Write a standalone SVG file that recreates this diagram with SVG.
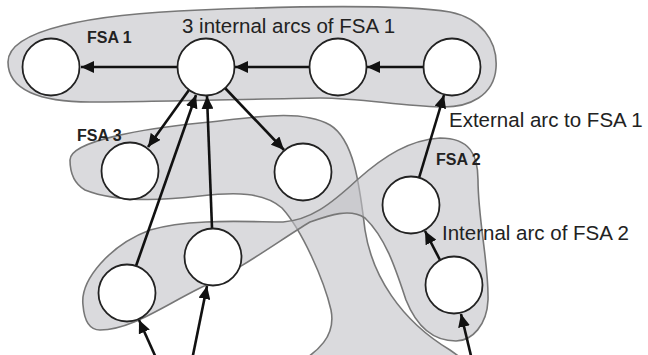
<svg xmlns="http://www.w3.org/2000/svg" width="648" height="355" viewBox="0 0 648 355">
<style>
.region{fill:#c2c2c7;fill-opacity:0.6;stroke:#777;stroke-width:1.6}
.node circle{fill:#fff;stroke:#222;stroke-width:1.8}
.arc{stroke:#111;stroke-width:2.6;fill:none;marker-end:url(#ah)}
.lbl{font-family:"Liberation Sans",Arial,sans-serif;font-size:20.5px;fill:#222}
.fsa{font-family:"Liberation Sans",Arial,sans-serif;font-size:16px;font-weight:bold;fill:#222}
</style>
<defs>
<marker id="ah" markerUnits="userSpaceOnUse" markerWidth="14" markerHeight="12" refX="13" refY="6" orient="auto">
<path d="M0,0 L13,6 L0,12 Z" fill="#111"/>
</marker>
</defs>
<rect width="648" height="355" fill="#fff"/>
<g id="regions">
<path id="fsa1-region" class="region" d="M8,62 C8,30 90,14 200,10 C300,6 400,4 450,12 C480,18 498,40 496,68 C494,95 470,108 440,107 C400,106 360,98 320,98 C250,99 150,102 90,102 C40,102 8,90 8,62 Z"/>
<path id="fsa3-region" class="region" d="M70,160 C70,140 150,128 200,123 C250,118 300,108 330,125 C355,140 360,190 365,230 C372,275 400,320 450,350 L475,368 L290,368 C320,352 336,335 331,310 C324,280 302,230 282,208 C264,192 235,192 200,196 C150,202 110,200 85,190 C73,183 70,172 70,160 Z"/>
<path id="fsa2-region" class="region" d="M83,305 C80,280 110,245 150,230 C190,218 250,222 283,222 C310,220 330,205 357,180 C385,155 410,140 440,138 C470,138 478,155 478,180 C478,220 489,265 488,300 C487,325 472,341 456,341 C432,341 416,325 406,300 C396,270 386,238 365,218 C350,208 330,215 310,222 C280,240 240,270 200,288 C160,308 130,330 100,330 C88,330 84,318 83,305 Z"/>
</g>
<text class="fsa" x="87" y="43">FSA 1</text>
<text class="fsa" x="77" y="141">FSA 3</text>
<text class="fsa" x="436" y="165">FSA 2</text>
<g id="connectors">
<line class="arc" x1="424" y1="67" x2="367" y2="67"/>
<line class="arc" x1="310" y1="67" x2="235" y2="67"/>
<line class="arc" x1="178" y1="67" x2="81" y2="67"/>
<line class="arc" x1="189" y1="90" x2="148" y2="147"/>
<line class="arc" x1="225" y1="88" x2="284" y2="150"/>
<line class="arc" x1="136" y1="266" x2="196" y2="95"/>
<line class="arc" x1="212" y1="228" x2="207" y2="96"/>
<line class="arc" x1="419" y1="178" x2="444" y2="95"/>
<line class="arc" x1="440" y1="260" x2="425" y2="231"/>
<line class="arc" x1="472" y1="360" x2="461" y2="314"/>
<line class="arc" x1="157" y1="360" x2="139" y2="320"/>
<line class="arc" x1="192" y1="360" x2="207" y2="286"/>
</g>
<g id="n1" class="node"><circle cx="51" cy="67" r="28.5"/></g>
<g id="n2" class="node"><circle cx="206" cy="67" r="28.5"/></g>
<g id="n3" class="node"><circle cx="338" cy="67" r="28.5"/></g>
<g id="n4" class="node"><circle cx="452" cy="67" r="28.5"/></g>
<g id="n5" class="node"><circle cx="130" cy="171" r="28.5"/></g>
<g id="n6" class="node"><circle cx="303" cy="172" r="28.5"/></g>
<g id="n7" class="node"><circle cx="411" cy="205" r="28.5"/></g>
<g id="n8" class="node"><circle cx="454" cy="285" r="28.5"/></g>
<g id="n9" class="node"><circle cx="127" cy="293" r="28.5"/></g>
<g id="n10" class="node"><circle cx="213" cy="257" r="28.5"/></g>
<text class="lbl" x="182" y="33">3 internal arcs of FSA 1</text>
<text class="lbl" x="449" y="127">External arc to FSA 1</text>
<text class="lbl" x="442" y="240">Internal arc of FSA 2</text>
</svg>
